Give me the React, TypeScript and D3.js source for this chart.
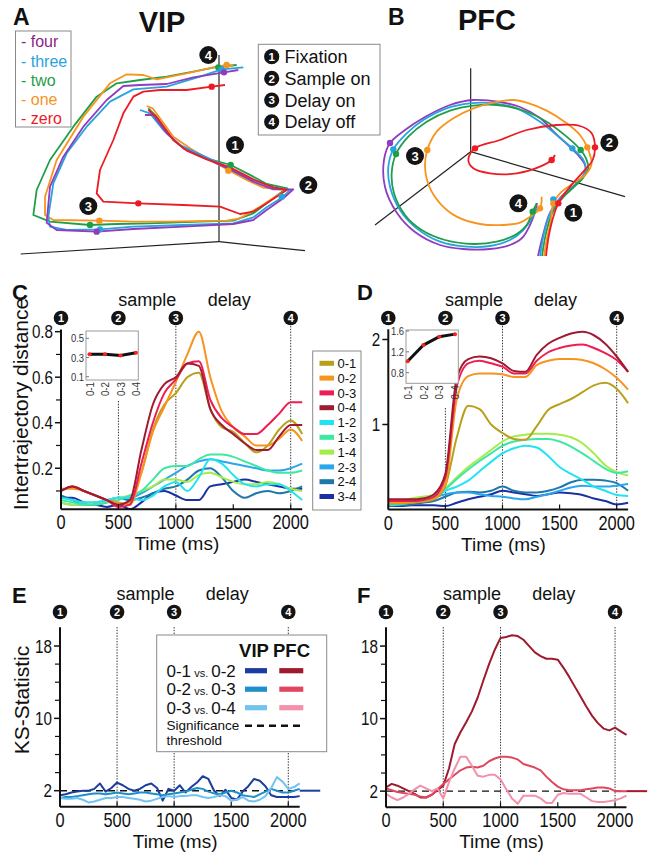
import React, { useEffect, useRef } from 'react';
import * as d3 from 'd3';

const FONT = '"Liberation Sans", Arial, Helvetica, sans-serif';

// ---------- A / B : trajectories in projected state space (arbitrary units) ----------
const numberNames = ['four', 'three', 'two', 'one', 'zero'];
const numberColors = ['#8d3dbd', '#29a3df', '#1f9e4a', '#f7941d', '#ec1c24'];
const numberTextColors = ['#8c2585', '#29a3df', '#1f9e4a', '#f7941d', '#ec1c24'];

type Pt = [number, number];

const vipFour: Pt[] = [[435, 255], [460, 255], [500, 310], [550, 355], [620, 387], [690, 418], [760, 455], [820, 478], [880, 478], [850, 505], [800, 540], [760, 570], [700, 582], [550, 590], [400, 597], [290, 605], [170, 600], [140, 578], [150, 470], [190, 380], [250, 290], [320, 210], [370, 168], [420, 165], [500, 162], [580, 142], [672, 127], [715, 120]];
const vipThree: Pt[] = [[420, 240], [450, 250], [490, 300], [540, 345], [620, 382], [690, 415], [760, 450], [820, 472], [870, 480], [850, 500], [800, 532], [760, 562], [700, 580], [550, 585], [400, 590], [300, 598], [200, 600], [150, 590], [145, 560], [160, 460], [200, 370], [260, 290], [330, 215], [400, 178], [500, 170], [600, 140], [665, 118], [730, 112]];
const vipTwo: Pt[] = [[445, 235], [470, 260], [520, 330], [560, 360], [620, 385], [692, 405], [760, 440], [800, 462], [862, 475], [840, 490], [800, 520], [760, 550], [700, 572], [600, 575], [450, 580], [350, 582], [270, 585], [150, 575], [100, 555], [110, 480], [150, 390], [220, 290], [290, 200], [350, 160], [420, 150], [500, 140], [580, 125], [655, 110], [710, 105]];
const vipOne: Pt[] = [[440, 228], [458, 235], [480, 265], [520, 320], [570, 355], [630, 390], [685, 420], [740, 450], [790, 473], [860, 480], [830, 497], [780, 530], [720, 565], [680, 572], [500, 575], [400, 575], [298, 572], [160, 570], [135, 555], [135, 500], [170, 390], [250, 260], [330, 160], [380, 133], [430, 135], [470, 148], [560, 130], [640, 112], [680, 105], [700, 108]];
const vipZero: Pt[] = [[445, 240], [470, 262], [520, 330], [560, 362], [620, 388], [690, 412], [760, 448], [820, 472], [860, 480], [800, 520], [760, 545], [720, 552], [660, 530], [550, 525], [415, 520], [310, 515], [290, 490], [300, 420], [340, 330], [370, 250], [400, 200], [430, 185], [480, 180], [560, 180], [635, 170], [675, 165]];
const vipDots: Pt[][] = [
  [[290, 605], [672, 127]],
  [[300, 598], [665, 118], [845, 500]],
  [[692, 405], [270, 585], [655, 112]],
  [[685, 422], [298, 572], [680, 105]],
  [[415, 520], [635, 170]],
];
const vipAxisPts: Pt[] = [[657, 75], [657, 635], [62, 672], [915, 662]];
const vipEventPts: Pt[] = [[705, 345], [925, 465], [265, 528], [625, 75]];

const pfcFour: Pt[] = [[594, 648], [609, 585], [627, 525], [648, 489], [678, 456], [714, 426], [735, 396], [735, 375], [714, 345], [690, 321], [645, 279], [600, 234], [540, 201], [480, 186], [399, 180], [330, 195], [255, 231], [195, 270], [150, 309], [132, 360], [135, 441], [171, 519], [225, 576], [300, 615], [369, 627], [450, 627], [510, 615], [546, 594], [570, 555], [585, 516], [591, 489]];
const pfcThree: Pt[] = [[600, 648], [612, 580], [630, 520], [652, 485], [685, 452], [720, 420], [738, 390], [730, 360], [697, 325], [650, 285], [600, 245], [530, 205], [460, 190], [390, 190], [320, 205], [250, 240], [200, 280], [160, 328], [145, 380], [150, 440], [180, 510], [230, 565], [300, 605], [380, 620], [450, 618], [510, 600], [550, 570], [575, 535], [590, 505]];
const pfcTwo: Pt[] = [[606, 648], [618, 580], [636, 520], [660, 483], [692, 450], [728, 415], [745, 385], [738, 355], [722, 330], [680, 290], [620, 245], [545, 210], [470, 195], [400, 197], [330, 212], [260, 245], [205, 290], [168, 342], [155, 400], [162, 460], [195, 525], [245, 570], [315, 600], [400, 612], [470, 605], [525, 585], [560, 555], [578, 515], [590, 490]];
const pfcOne: Pt[] = [[612, 648], [622, 590], [632, 545], [640, 490], [660, 460], [700, 430], [740, 400], [755, 370], [750, 345], [742, 322], [720, 285], [680, 250], [620, 212], [560, 188], [520, 180], [460, 188], [400, 205], [340, 235], [290, 275], [262, 330], [255, 380], [268, 440], [300, 490], [350, 530], [420, 552], [490, 555], [540, 548], [570, 530], [600, 505], [605, 470]];
const pfcZero: Pt[] = [[618, 648], [626, 590], [640, 530], [655, 490], [690, 440], [730, 395], [758, 360], [765, 322], [755, 280], [720, 258], [650, 255], [560, 270], [480, 300], [405, 325], [385, 360], [400, 385], [450, 400], [530, 400], [600, 380], [635, 360], [645, 345]];
const pfcDots: Pt[][] = [
  [[150, 309]],
  [[697, 325], [160, 328], [640, 478]],
  [[722, 330], [168, 342], [578, 515]],
  [[640, 490], [742, 322], [262, 330], [600, 505]],
  [[655, 490], [765, 322], [405, 325], [635, 360]],
];
const pfcAxisPts: Pt[] = [[392, 85], [392, 335], [105, 555], [855, 470]];
const pfcEventPts: Pt[] = [[700, 518], [808, 308], [225, 348], [535, 490]];

const eventNames = ['Fixation', 'Sample on', 'Delay on', 'Delay off'];

// ---------- C / D : intertrajectory distance ----------
const TIME_100 = [0, 100, 200, 300, 400, 500, 600, 700, 800, 900, 1000, 1100, 1200, 1300, 1400, 1500, 1600, 1700, 1800, 1900, 2000, 2100];
const pairLabels = ['0-1', '0-2', '0-3', '0-4', '1-2', '1-3', '1-4', '2-3', '2-4', '3-4'];
const pairColors = ['#b8a01a', '#f7931e', '#ee1d52', '#9e1b32', '#22e3f0', '#3fe8a2', '#a4ec4c', '#2aa6ee', '#1d78a8', '#1b30a3'];

const vip01 = [0.10, 0.12, 0.10, 0.08, 0.06, 0.04, 0.05, 0.18, 0.37, 0.48, 0.53, 0.60, 0.62, 0.46, 0.38, 0.36, 0.31, 0.27, 0.30, 0.37, 0.41, 0.35];
const vip02 = [0.11, 0.11, 0.10, 0.08, 0.06, 0.05, 0.04, 0.18, 0.36, 0.47, 0.58, 0.70, 0.80, 0.60, 0.45, 0.38, 0.34, 0.30, 0.30, 0.33, 0.37, 0.32];
const vip03 = [0.10, 0.12, 0.10, 0.08, 0.06, 0.03, 0.04, 0.22, 0.40, 0.53, 0.59, 0.66, 0.67, 0.50, 0.42, 0.38, 0.35, 0.35, 0.39, 0.44, 0.49, 0.49];
const vip04 = [0.10, 0.12, 0.10, 0.08, 0.06, 0.04, 0.06, 0.28, 0.48, 0.57, 0.60, 0.66, 0.65, 0.46, 0.39, 0.35, 0.31, 0.28, 0.28, 0.34, 0.39, 0.39];
const vip12 = [0.07, 0.06, 0.05, 0.05, 0.06, 0.07, 0.07, 0.06, 0.08, 0.12, 0.14, 0.10, 0.16, 0.24, 0.22, 0.17, 0.13, 0.12, 0.13, 0.13, 0.10, 0.06];
const vip13 = [0.06, 0.05, 0.04, 0.04, 0.05, 0.06, 0.08, 0.10, 0.15, 0.20, 0.21, 0.21, 0.24, 0.26, 0.26, 0.25, 0.23, 0.21, 0.19, 0.18, 0.18, 0.19];
const vip14 = [0.05, 0.04, 0.04, 0.05, 0.06, 0.07, 0.08, 0.10, 0.12, 0.15, 0.15, 0.14, 0.17, 0.18, 0.16, 0.14, 0.13, 0.13, 0.14, 0.13, 0.11, 0.10];
const vip23 = [0.05, 0.04, 0.04, 0.05, 0.06, 0.07, 0.07, 0.09, 0.12, 0.15, 0.18, 0.21, 0.23, 0.24, 0.23, 0.22, 0.21, 0.20, 0.19, 0.19, 0.20, 0.22];
const vip24 = [0.08, 0.06, 0.04, 0.04, 0.05, 0.07, 0.06, 0.07, 0.09, 0.11, 0.12, 0.15, 0.19, 0.20, 0.16, 0.10, 0.07, 0.09, 0.10, 0.09, 0.10, 0.12];
const vip34 = [0.07, 0.07, 0.05, 0.04, 0.03, 0.04, 0.02, 0.05, 0.09, 0.10, 0.08, 0.06, 0.06, 0.12, 0.13, 0.14, 0.15, 0.14, 0.13, 0.12, 0.11, 0.11];

const pfc01 = [0.07, 0.07, 0.08, 0.09, 0.12, 0.28, 0.85, 1.22, 1.18, 1.00, 0.90, 0.83, 0.82, 0.98, 1.17, 1.24, 1.30, 1.38, 1.46, 1.49, 1.42, 1.25];
const pfc02 = [0.08, 0.08, 0.09, 0.10, 0.13, 0.30, 1.30, 1.57, 1.60, 1.60, 1.59, 1.56, 1.56, 1.70, 1.75, 1.77, 1.77, 1.76, 1.72, 1.65, 1.55, 1.41];
const pfc03 = [0.10, 0.10, 0.10, 0.11, 0.15, 0.38, 1.45, 1.72, 1.75, 1.72, 1.68, 1.60, 1.60, 1.75, 1.85, 1.90, 1.93, 1.94, 1.90, 1.84, 1.76, 1.62];
const pfc04 = [0.12, 0.12, 0.12, 0.13, 0.18, 0.42, 1.55, 1.77, 1.80, 1.78, 1.72, 1.63, 1.62, 1.82, 1.95, 2.02, 2.07, 2.09, 2.05, 1.95, 1.80, 1.62];
const pfc12 = [0.05, 0.06, 0.08, 0.10, 0.14, 0.22, 0.27, 0.34, 0.45, 0.56, 0.66, 0.72, 0.75, 0.73, 0.63, 0.50, 0.42, 0.35, 0.27, 0.22, 0.17, 0.16];
const pfc13 = [0.06, 0.08, 0.10, 0.12, 0.15, 0.24, 0.36, 0.47, 0.57, 0.66, 0.75, 0.80, 0.82, 0.83, 0.83, 0.80, 0.74, 0.66, 0.57, 0.48, 0.43, 0.45];
const pfc14 = [0.08, 0.10, 0.13, 0.15, 0.17, 0.25, 0.38, 0.50, 0.60, 0.70, 0.80, 0.86, 0.88, 0.89, 0.89, 0.88, 0.85, 0.78, 0.66, 0.52, 0.44, 0.40];
const pfc23 = [0.06, 0.07, 0.09, 0.10, 0.14, 0.18, 0.20, 0.20, 0.18, 0.16, 0.15, 0.13, 0.12, 0.15, 0.18, 0.22, 0.26, 0.28, 0.27, 0.27, 0.28, 0.30];
const pfc24 = [0.05, 0.05, 0.06, 0.08, 0.10, 0.15, 0.20, 0.21, 0.20, 0.22, 0.27, 0.22, 0.20, 0.20, 0.22, 0.26, 0.32, 0.35, 0.35, 0.34, 0.31, 0.22];
const pfc34 = [0.04, 0.04, 0.05, 0.05, 0.05, 0.04, 0.08, 0.12, 0.15, 0.18, 0.22, 0.20, 0.18, 0.16, 0.18, 0.20, 0.19, 0.17, 0.13, 0.10, 0.06, 0.08];

// insets: mean distance from zero
const insetLabels = ['0-1', '0-2', '0-3', '0-4'];
const vipInset = [0.335, 0.333, 0.32, 0.35];
const pfcInset = [1.02, 1.33, 1.49, 1.54];

// ---------- E / F : KS statistic ----------
const TIME_50 = d3.range(0, 2101, 50);
const ksLabels = ['0-1', '0-2', '0-3'];
const ksVsLabels = ['0-2', '0-3', '0-4'];
const vipKsColors = ['#1c3c9e', '#1e90c8', '#72c4f0'];
const pfcKsColors = ['#9e1a2e', '#e0475f', '#f390ab'];

const vipKs1 = [1.5, 1.6, 1.8, 1.9, 2.0, 2.0, 2.2, 2.8, 1.9, 2.3, 2.9, 2.6, 2.2, 2.0, 2.2, 2.6, 2.8, 2.3, 0.9, 2.2, 2.0, 2.6, 1.8, 2.4, 2.9, 3.6, 3.3, 2.0, 1.4, 2.1, 1.2, 1.0, 1.9, 2.5, 3.3, 3.1, 2.5, 1.5, 1.3, 1.3, 1.3, 1.3, 1.4];
const vipKs2 = [1.2, 1.3, 1.3, 1.4, 1.5, 1.6, 1.7, 1.7, 1.6, 1.7, 1.8, 1.7, 1.6, 1.7, 1.8, 1.8, 1.7, 1.6, 1.5, 1.6, 1.7, 1.8, 1.9, 2.1, 2.3, 2.2, 1.9, 1.7, 1.6, 1.8, 2.0, 1.8, 1.5, 1.4, 1.3, 1.6, 1.9, 2.2, 2.0, 1.8, 1.8, 2.0, 2.2];
const vipKs3 = [1.2, 1.1, 1.1, 1.2, 1.0, 0.7, 0.8, 1.0, 1.2, 1.2, 1.3, 1.3, 1.2, 1.1, 1.0, 0.8, 0.9, 1.1, 1.3, 1.4, 1.3, 1.4, 1.4, 1.5, 1.5, 1.3, 1.2, 1.3, 1.5, 1.4, 0.9, 1.0, 1.3, 0.9, 0.8, 1.0, 1.4, 2.3, 3.5, 3.0, 2.2, 2.4, 2.8];
const pfcKs1 = [2.4, 2.8, 2.6, 2.3, 2.0, 1.7, 1.3, 1.3, 1.6, 2.1, 2.6, 4.5, 7.2, 8.5, 9.6, 10.8, 12.3, 14.2, 16.0, 17.6, 18.9, 19.0, 19.2, 19.1, 18.7, 18.0, 17.3, 16.9, 16.6, 16.6, 16.5, 15.6, 14.6, 13.5, 12.4, 11.3, 10.3, 9.5, 8.9, 8.7, 9.0, 8.6, 8.2];
const pfcKs2 = [2.3, 2.1, 1.9, 1.8, 1.7, 1.6, 1.4, 1.3, 1.6, 2.2, 2.8, 3.3, 3.8, 4.3, 4.6, 4.7, 4.6, 4.8, 5.3, 5.6, 5.8, 5.8, 5.7, 5.5, 5.0, 4.8, 4.6, 4.3, 3.6, 3.0, 2.5, 2.2, 2.1, 2.1, 2.1, 2.2, 2.3, 2.4, 2.4, 2.3, 2.0, 2.0, 2.0];
const pfcKs3 = [1.7, 1.3, 1.0, 1.3, 1.7, 2.2, 2.6, 2.3, 2.0, 2.3, 1.2, 3.0, 4.5, 5.8, 5.8, 4.8, 3.7, 3.6, 3.8, 3.8, 3.3, 2.2, 1.2, 0.6, 1.5, 1.5, 1.5, 1.2, 0.7, 0.7, 1.6, 1.8, 1.7, 1.7, 1.7, 1.3, 0.9, 0.8, 0.8, 0.9, 1.0, 1.2, 1.5];
const ksThreshold = 2;
const thresholdTail = [2100, 2280];

const eventTimes = [0, 500, 1000, 2000];

type G = d3.Selection<SVGGElement, unknown, null, undefined>;

function addText(g: G, x: number, y: number, s: string, size: number, o: any = {}) {
  return g.append('text')
    .attr('x', x).attr('y', y)
    .attr('font-family', FONT)
    .attr('font-size', size)
    .attr('font-weight', o.weight || 'normal')
    .attr('text-anchor', o.anchor || 'start')
    .attr('fill', o.fill || '#111')
    .text(s);
}

// condensed text (the figure uses a narrow sans for tick numbers)
function narrowText(g: G, x: number, y: number, s: string, size: number, o: any = {}) {
  return addText(g, 0, 0, s, size, o)
    .attr('transform', `translate(${x},${y}) scale(${o.squeeze || 0.82},1)`);
}

function eventMarker(g: G, x: number, y: number, r: number, n: number, fs: number) {
  g.append('circle').attr('cx', x).attr('cy', y).attr('r', r).attr('fill', '#141414');
  addText(g, x, y, String(n), fs, { anchor: 'middle', weight: 'bold', fill: '#fff' }).attr('dy', '0.36em');
}

function drawTrajectories(g: G, sx: any, sy: any, trajs: Pt[][], dots: Pt[][], order: number[], axis: Pt[], events: Pt[], curve: any) {
  const [top, origin, left, right] = axis;
  [[top, origin], [origin, left], [origin, right]].forEach(([a, b]) => {
    g.append('line').attr('x1', sx(a[0])).attr('y1', sy(a[1])).attr('x2', sx(b[0])).attr('y2', sy(b[1]))
      .attr('stroke', '#222').attr('stroke-width', 1.2);
  });
  const line = d3.line<Pt>().x(d => sx(d[0])).y(d => sy(d[1])).curve(curve);
  order.forEach(i => {
    g.append('path').attr('d', line(trajs[i])).attr('fill', 'none')
      .attr('stroke', numberColors[i]).attr('stroke-width', 1.8).attr('stroke-linejoin', 'round');
  });
  order.forEach(i => {
    dots[i].forEach(d => {
      g.append('circle').attr('cx', sx(d[0])).attr('cy', sy(d[1])).attr('r', 3.2).attr('fill', numberColors[i]);
    });
  });
  events.forEach((p, i) => eventMarker(g, sx(p[0]), sy(p[1]), 9, i + 1, 13));
}

interface Series { color: string; values: number[] }

function drawTimePanel(root: G, p: any) {
  const g = root.append('g');
  const x = p.x, y = p.y;
  const [yb, yt] = y.range();
  const xEnd = x(2100);
  const id = 'clip-' + p.letter;

  // event lines (dotted)
  eventTimes.forEach((t, i) => {
    if (p.dotTops[i] == null) return;
    g.append('line').attr('x1', x(t)).attr('x2', x(t)).attr('y1', p.dotTops[i]).attr('y2', yb)
      .attr('stroke', '#333').attr('stroke-width', 1).attr('stroke-dasharray', '1.4,1.4');
  });

  g.append('clipPath').attr('id', id).append('rect')
    .attr('x', x(0)).attr('y', yt - 5).attr('width', xEnd - x(0) + 2).attr('height', yb - yt + 5);

  const plot = g.append('g').attr('clip-path', `url(#${id})`);
  if (p.threshold != null) {
    plot.append('line').attr('x1', x(0)).attr('x2', xEnd).attr('y1', y(p.threshold)).attr('y2', y(p.threshold))
      .attr('stroke', '#111').attr('stroke-width', 1.4).attr('stroke-dasharray', '7,5');
  }
  const line = d3.line<number>().x((_, i) => x(p.times[i])).y(d => y(d)).curve(p.curve);
  (p.series as Series[]).forEach(s => {
    plot.append('path').attr('d', line(s.values)).attr('fill', 'none')
      .attr('stroke', s.color).attr('stroke-width', 2).attr('stroke-linejoin', 'round');
  });
  if (p.threshold != null) {
    g.append('line').attr('x1', x(thresholdTail[0])).attr('x2', x(thresholdTail[1]))
      .attr('y1', y(p.threshold)).attr('y2', y(p.threshold))
      .attr('stroke', p.series[0].color).attr('stroke-width', 2);
  }

  // axes
  g.append('line').attr('x1', x(0)).attr('x2', xEnd).attr('y1', yb).attr('y2', yb).attr('stroke', '#111').attr('stroke-width', 2);
  g.append('line').attr('x1', x(0)).attr('x2', x(0)).attr('y1', yb).attr('y2', yt).attr('stroke', '#111').attr('stroke-width', 2);
  [0, 500, 1000, 1500, 2000].forEach(t => {
    g.append('line').attr('x1', x(t)).attr('x2', x(t)).attr('y1', yb).attr('y2', yb - 5).attr('stroke', '#111').attr('stroke-width', 1.2);
    narrowText(g, x(t), yb + 20, String(t), 20, { anchor: 'middle' });
  });
  addText(g, (x(0) + x(2000)) / 2 + 1, yb + 41, 'Time (ms)', 19, { anchor: 'middle' });

  (p.yMinor as number[]).forEach(v => {
    g.append('line').attr('x1', x(0)).attr('x2', x(0) - 5).attr('y1', y(v)).attr('y2', y(v)).attr('stroke', '#111').attr('stroke-width', 1.2);
  });
  (p.yTicks as number[]).forEach(v => {
    g.append('line').attr('x1', x(0)).attr('x2', x(0) - 6).attr('y1', y(v)).attr('y2', y(v)).attr('stroke', '#111').attr('stroke-width', 1.5);
    narrowText(g, x(0) - 8, y(v) + 6.5, p.yFormat(v), 19, { anchor: 'end', squeeze: 0.8 });
  });

  if (p.yLabel) {
    addText(g, 0, 0, p.yLabel, 21, { anchor: 'middle' })
      .attr('transform', `translate(${p.yLabelX},${p.yLabelY}) rotate(-90)`);
  }

  // event markers + epoch labels
  eventTimes.forEach((t, i) => eventMarker(g, x(t), p.markerY, 7.3, i + 1, 11));
  addText(g, (x(500) + x(1000)) / 2, p.epochY, 'sample', 18, { anchor: 'middle' });
  addText(g, (x(1000) + x(2000)) / 2 - 4, p.epochY, 'delay', 18, { anchor: 'middle' });
  addText(g, p.letterX, p.letterY, p.letter, 22, { weight: 'bold' });
}

function drawInset(root: G, box: number[], yDomain: number[], yRange: number[], ticks: number[], fmt: (v: number) => string, values: number[], xr: number[]) {
  const g = root.append('g');
  const [x0, y0, x1, y1] = box;
  g.append('rect').attr('x', x0).attr('y', y0).attr('width', x1 - x0).attr('height', y1 - y0)
    .attr('fill', '#fff').attr('stroke', '#9a9a9a').attr('stroke-width', 1);
  const sx = d3.scalePoint<string>().domain(insetLabels).range(xr as [number, number]);
  const sy = d3.scaleLinear().domain(yDomain).range(yRange);
  ticks.forEach(v => {
    g.append('line').attr('x1', x0).attr('x2', x0 + 3).attr('y1', sy(v)).attr('y2', sy(v)).attr('stroke', '#777');
    narrowText(g, x0 - 2, sy(v) + 4, fmt(v), 11.5, { anchor: 'end', fill: '#333' });
  });
  insetLabels.forEach(l => {
    addText(g, 0, 0, l, 11.5, { anchor: 'end', fill: '#333' })
      .attr('dy', '0.35em')
      .attr('transform', `translate(${sx(l)},${y1 + 2}) rotate(-90) scale(0.85,1)`);
  });
  const line = d3.line<number>().x((_, i) => sx(insetLabels[i])!).y(d => sy(d));
  g.append('path').attr('d', line(values)).attr('fill', 'none').attr('stroke', '#111').attr('stroke-width', 3);
  values.forEach((v, i) => {
    g.append('circle').attr('cx', sx(insetLabels[i])!).attr('cy', sy(v)).attr('r', 2).attr('fill', '#ff2020');
  });
}

export default function App() {
  const ref = useRef<SVGSVGElement>(null);

  useEffect(() => {
    if (!ref.current) return;
    const svg = d3.select(ref.current);
    svg.selectAll('*').remove();
    const root = svg.append('g') as unknown as G;

    // ----- A: VIP -----
    const ax = d3.scaleLinear().domain([0, 960]).range([0, 320]);
    const ay = d3.scaleLinear().domain([0, 690]).range([30, 260]);
    drawTrajectories(root, ax, ay, [vipFour, vipThree, vipTwo, vipOne, vipZero], vipDots, [2, 3, 1, 0, 4],
      vipAxisPts, vipEventPts, d3.curveLinear);
    addText(root, 13, 25, 'A', 23, { weight: 'bold' });
    addText(root, 162, 32, 'VIP', 29, { weight: 'bold', anchor: 'middle' });

    // number legend
    root.append('rect').attr('x', 15.5).attr('y', 31).attr('width', 55.5).attr('height', 96)
      .attr('fill', '#fff').attr('stroke', '#8a8a8a');
    numberNames.forEach((n, i) => {
      addText(root, 21, 47.2 + i * 19.3, '- ' + n, 16, { fill: numberTextColors[i] });
    });

    // event legend
    root.append('rect').attr('x', 258.3).attr('y', 44.3).attr('width', 121.7).attr('height', 90.7)
      .attr('fill', '#fff').attr('stroke', '#8a8a8a');
    eventNames.forEach((n, i) => {
      const cy = 56.7 + i * 21.7;
      eventMarker(root, 271.7, cy, 7.6, i + 1, 11.5);
      addText(root, 284.5, cy + 6.5, n, 18);
    });

    // ----- B: PFC -----
    const bx = d3.scaleLinear().domain([0, 900]).range([340, 640]);
    const by = d3.scaleLinear().domain([0, 600]).range([40, 240]);
    drawTrajectories(root, bx, by, [pfcFour, pfcThree, pfcTwo, pfcOne, pfcZero], pfcDots, [0, 1, 2, 3, 4],
      pfcAxisPts, pfcEventPts, d3.curveCatmullRom.alpha(0.5));
    addText(root, 388, 25, 'B', 23, { weight: 'bold' });
    addText(root, 487, 30, 'PFC', 29, { weight: 'bold', anchor: 'middle' });

    // ----- C: VIP distances -----
    const vipSeries = [vip01, vip02, vip03, vip04, vip12, vip13, vip14, vip23, vip24, vip34];
    const pfcSeries = [pfc01, pfc02, pfc03, pfc04, pfc12, pfc13, pfc14, pfc23, pfc24, pfc34];
    const drawOrder = [9, 8, 7, 6, 5, 4, 0, 1, 2, 3];

    drawTimePanel(root, {
      letter: 'C', letterX: 12, letterY: 300,
      x: d3.scaleLinear().domain([0, 2100]).range([61, 302.2]),
      y: d3.scaleLinear().domain([0.02, 0.81]).range([509.2, 329.4]),
      times: TIME_100, curve: d3.curveMonotoneX,
      series: drawOrder.map(i => ({ color: pairColors[i], values: vipSeries[i] })),
      yTicks: [0.2, 0.4, 0.6, 0.8], yMinor: [0.1, 0.3, 0.5, 0.7], yFormat: (v: number) => String(v),
      markerY: 318, epochY: 306, dotTops: [null, 401, 326, 326],
      yLabel: 'Intertrajectory distance', yLabelX: 28, yLabelY: 404,
    });
    drawInset(root, [86, 331, 138.3, 380], [0.1, 0.5], [376.7, 338.3], [0.1, 0.3, 0.5], v => String(v), vipInset, [89.5, 136]);

    // ----- D: PFC distances -----
    drawTimePanel(root, {
      letter: 'D', letterX: 357, letterY: 300,
      x: d3.scaleLinear().domain([0, 2100]).range([388.3, 628.1]),
      y: d3.scaleLinear().domain([0, 2.12]).range([509.5, 329.3]),
      times: TIME_100, curve: d3.curveMonotoneX,
      series: drawOrder.map(i => ({ color: pairColors[i], values: pfcSeries[i] })),
      yTicks: [1, 2], yMinor: [], yFormat: (v: number) => String(v),
      markerY: 318, epochY: 306, dotTops: [null, 408, 326, 326],
    });
    drawInset(root, [406, 330, 458.3, 383.3], [0.8, 1.6], [372.7, 331], [0.8, 1.2, 1.6], v => v.toFixed(1), pfcInset, [407.7, 455]);

    // pair legend
    root.append('rect').attr('x', 312.7).attr('y', 351).attr('width', 48.3).attr('height', 159)
      .attr('fill', '#fff').attr('stroke', '#8a8a8a');
    pairLabels.forEach((l, i) => {
      const cy = 363.3 + i * 14.8;
      root.append('rect').attr('x', 319.5).attr('y', cy - 2.5).attr('width', 14.5).attr('height', 5).attr('fill', pairColors[i]);
      addText(root, 337.5, cy + 4.6, l, 13);
    });

    // ----- E: VIP KS -----
    drawTimePanel(root, {
      letter: 'E', letterX: 12, letterY: 603,
      x: d3.scaleLinear().domain([0, 2100]).range([60, 299.7]),
      y: d3.scaleLinear().domain([0.23, 20.07]).range([806.7, 627.3]),
      times: TIME_50, curve: d3.curveLinear,
      series: [vipKs1, vipKs2, vipKs3].map((v, i) => ({ color: vipKsColors[i], values: v })),
      yTicks: [2, 10, 18], yMinor: [4, 6, 8, 12, 14, 16], yFormat: (v: number) => String(v),
      markerY: 612, epochY: 600, dotTops: [null, 627, 627, 627], threshold: ksThreshold,
      yLabel: 'KS-Statistic', yLabelX: 28.5, yLabelY: 700,
    });

    // ----- F: PFC KS -----
    drawTimePanel(root, {
      letter: 'F', letterX: 357, letterY: 603,
      x: d3.scaleLinear().domain([0, 2100]).range([386, 626.5]),
      y: d3.scaleLinear().domain([0.23, 20.07]).range([807.2, 627.3]),
      times: TIME_50, curve: d3.curveLinear,
      series: [pfcKs1, pfcKs2, pfcKs3].map((v, i) => ({ color: pfcKsColors[i], values: v })),
      yTicks: [2, 10, 18], yMinor: [4, 6, 8, 12, 14, 16], yFormat: (v: number) => String(v),
      markerY: 612, epochY: 600, dotTops: [null, 627, 627, 627], threshold: ksThreshold,
    });

    // KS legend
    const lg = root.append('g');
    lg.append('rect').attr('x', 156.7).attr('y', 635).attr('width', 170).attr('height', 116.7)
      .attr('fill', '#fff').attr('stroke', '#8a8a8a');
    addText(lg, 254, 657, 'VIP', 18.5, { weight: 'bold', anchor: 'middle' });
    addText(lg, 291.5, 657, 'PFC', 18.5, { weight: 'bold', anchor: 'middle' });
    ksLabels.forEach((l, i) => {
      const cy = 670.7 + i * 18.5;
      const t = lg.append('text').attr('x', 166.5).attr('y', cy + 6).attr('font-family', FONT).attr('fill', '#111');
      t.append('tspan').attr('font-size', 17).text(l);
      t.append('tspan').attr('font-size', 11).text(' vs. ');
      t.append('tspan').attr('font-size', 17).text(ksVsLabels[i]);
      lg.append('rect').attr('x', 245).attr('y', cy - 2.6).attr('width', 22).attr('height', 5.2).attr('fill', vipKsColors[i]);
      lg.append('rect').attr('x', 279.3).attr('y', cy - 2.6).attr('width', 24).attr('height', 5.2).attr('fill', pfcKsColors[i]);
    });
    addText(lg, 166.5, 730, 'Significance', 13.5);
    addText(lg, 166.5, 745, 'threshold', 13.5);
    lg.append('line').attr('x1', 245).attr('x2', 303).attr('y1', 725.7).attr('y2', 725.7)
      .attr('stroke', '#111').attr('stroke-width', 2.6).attr('stroke-dasharray', '7,5');
  }, []);

  return (
    <svg
      ref={ref}
      width={649}
      height={855}
      style={{ position: 'absolute', left: 0, top: 0, background: '#fff' }}
    />
  );
}
